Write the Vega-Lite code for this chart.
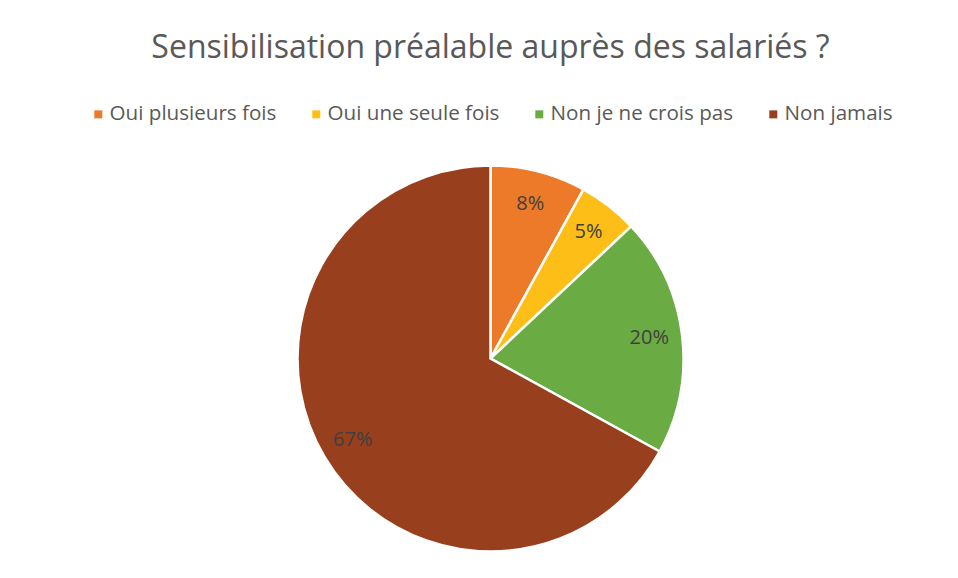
{
  "$schema": "https://vega.github.io/schema/vega-lite/v6.json",
  "autosize": "none",
  "width": 935,
  "height": 439,
  "padding": {"left": 23, "top": 139, "right": 0, "bottom": 0},
  "background": "white",
  "title": {
    "text": "Sensibilisation préalable auprès des salariés ?",
    "font": "Open Sans",
    "fontSize": 32,
    "fontWeight": "normal",
    "color": "#595959",
    "anchor": "middle",
    "baseline": "alphabetic",
    "offset": 14
  },
  "data": {
    "values": [
      {"cat": "Oui plusieurs fois", "v": 8, "o": 1, "label": "8%"},
      {"cat": "Oui une seule fois", "v": 5, "o": 2, "label": "5%"},
      {"cat": "Non je ne crois pas", "v": 20, "o": 3, "label": "20%"},
      {"cat": "Non jamais", "v": 67, "o": 4, "label": "67%"}
    ]
  },
  "encoding": {
    "theta": {"field": "v", "type": "quantitative", "stack": true},
    "order": {"field": "o", "type": "quantitative"},
    "color": {
      "field": "cat",
      "type": "nominal",
      "sort": ["Oui plusieurs fois", "Oui une seule fois", "Non je ne crois pas", "Non jamais"],
      "scale": {
        "domain": ["Oui plusieurs fois", "Oui une seule fois", "Non je ne crois pas", "Non jamais"],
        "range": ["#EC7A28", "#FCBE17", "#6AAB44", "#983F1E"]
      },
      "legend": {
        "title": null,
        "orient": "none",
        "legendX": 65,
        "legendY": -35,
        "direction": "horizontal",
        "columns": 4,
        "symbolType": "square",
        "symbolSize": 64,
        "symbolStrokeWidth": 0,
        "labelFont": "Open Sans",
        "labelFontSize": 20.6,
        "labelColor": "#595959",
        "labelOffset": 1,
        "columnPadding": 29,
        "labelLimit": 400
      }
    }
  },
  "layer": [
    {
      "mark": {"type": "arc", "outerRadius": 193, "stroke": "white", "strokeWidth": 2.5}
    },
    {
      "mark": {"type": "text", "radius": 160, "font": "Open Sans", "fontSize": 20, "fill": "#404040"},
      "encoding": {
        "text": {"field": "label"},
        "color": {"value": "#404040"}
      }
    }
  ],
  "config": {"view": {"stroke": null}}
}
